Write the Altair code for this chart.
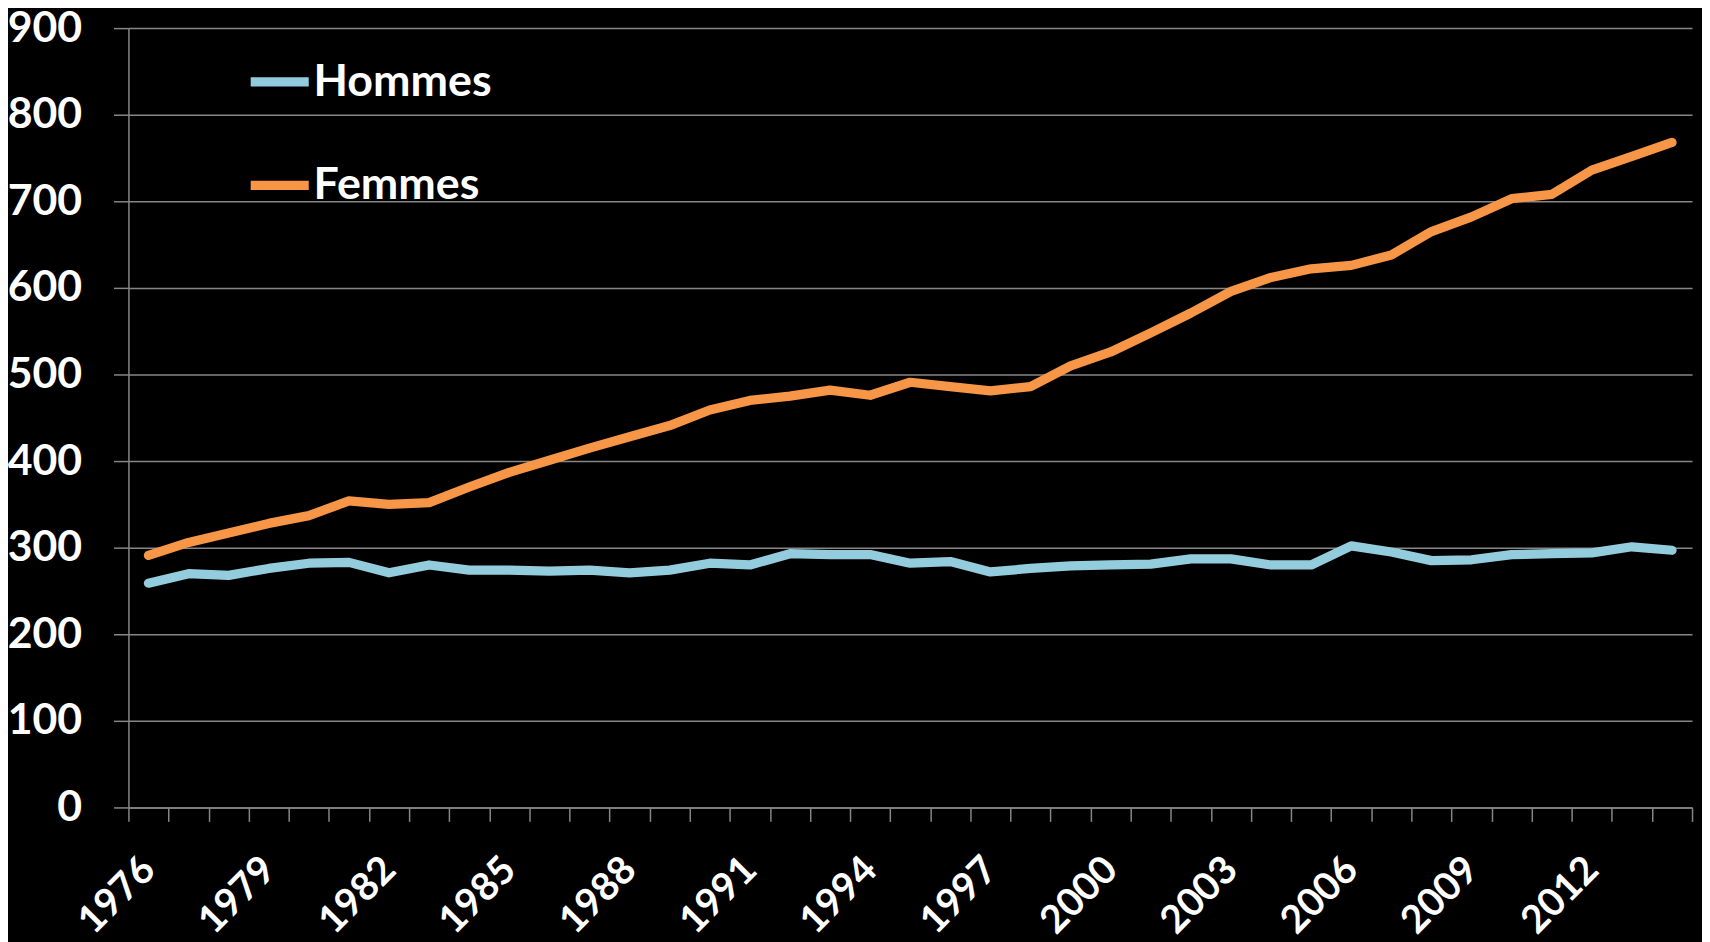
import altair as alt
import pandas as pd

years = list(range(1976, 2015))

hommes = [259, 270, 268, 276, 282, 283, 271, 280, 274, 274, 273, 274, 271, 274,
          282, 280, 293, 292, 292, 282, 284, 272, 276, 279, 280, 281, 287, 287,
          280, 280, 302, 295, 285, 286, 292, 293, 294, 301, 297]

femmes = [291, 306, 317, 328, 337, 354, 350, 352, 370, 387, 401, 415, 428, 441,
          459, 470, 475, 482, 476, 491, 486, 481, 486, 510, 526, 548, 571, 596,
          612, 622, 626, 638, 665, 682, 703, 708, 736, 752, 768]

series_names = ["Hommes", "Femmes"]
series_colors = ["#93CDDD", "#F79646"]

rows = []
for y, h, f in zip(years, hommes, femmes):
    rows.append({"Année": y, "Série": "Hommes", "Valeur": h})
    rows.append({"Année": y, "Série": "Femmes", "Valeur": f})
df = pd.DataFrame(rows)

FONT = "Lato"
GRID = "#868686"

tick_bounds = [y - 0.5 for y in years] + [years[-1] + 0.5]

x_axis = alt.Axis(
    values=tick_bounds,
    labelExpr="((datum.value - 0.5 - 1976) % 3 == 0) ? '' + (datum.value - 0.5) : ''",
    labelOffset=-20.14,
    labelAngle=-45,
    labelAlign="right",
    labelBaseline="middle",
    labelPadding=42,
    labelOverlap=False,
    labelFlush=False,
    labelFont=FONT,
    labelFontSize=39,
    labelFontWeight="bold",
    labelColor="white",
    ticks=True,
    tickSize=14,
    tickColor=GRID,
    tickWidth=1.5,
    domainColor=GRID,
    domainWidth=1.5,
    grid=False,
    title=None,
)

y_axis = alt.Axis(
    values=list(range(0, 901, 100)),
    labelFont=FONT,
    labelFontSize=43,
    labelFontWeight="bold",
    labelColor="white",
    labelPadding=32,
    tickSize=15,
    tickColor=GRID,
    tickWidth=1.5,
    domainColor=GRID,
    domainWidth=1.5,
    grid=True,
    gridColor=GRID,
    gridWidth=1.5,
    title=None,
)

chart = alt.Chart(df).mark_line(
    strokeWidth=9.3, strokeCap="round", strokeJoin="round"
).encode(
    x=alt.X("Année:Q", scale=alt.Scale(domain=[1975.5, 2014.5], nice=False, zero=False), axis=x_axis),
    y=alt.Y("Valeur:Q", scale=alt.Scale(domain=[0, 900], nice=False), axis=y_axis),
    color=alt.Color(
        "Série:N",
        scale=alt.Scale(domain=series_names, range=series_colors),
        sort=series_names,
        legend=alt.Legend(
            orient="none",
            legendX=118,
            legendY=20,
            direction="vertical",
            title=None,
            padding=0,
            rowPadding=47,
            symbolType="stroke",
            symbolSize=3400,
            symbolStrokeWidth=9.3,
            labelFont=FONT,
            labelFontSize=45,
            labelFontWeight="bold",
            labelColor="white",
            labelOffset=0,
            labelLimit=0,
        ),
    ),
    order=alt.Order("Année:Q"),
).properties(
    width=1571,
    height=783,
    background="black",
    padding={"left": 121, "top": 18, "right": 10, "bottom": 134},
    autosize=alt.AutoSizeParams(type="none"),
).configure_view(stroke=None)

chart.save("out.html", embed_options={"renderer": "svg", "actions": False})
